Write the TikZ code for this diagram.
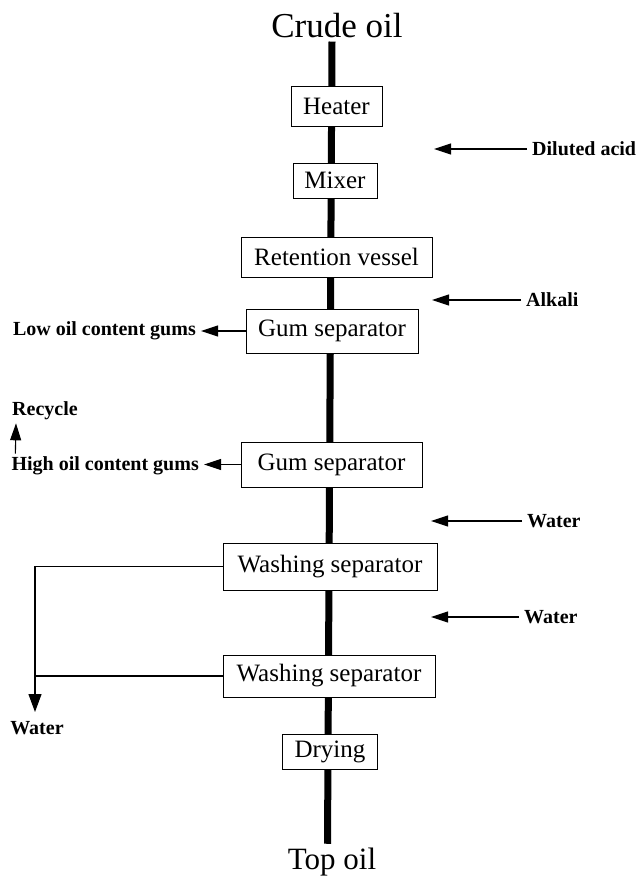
\documentclass[tikz,border=0pt]{standalone}
\usepackage{fontspec}
\setmainfont{Liberation Serif}
\usetikzlibrary{arrows.meta,backgrounds}

\begin{document}
\begin{tikzpicture}[x=1pt,y=-1pt,
        unit/.style={draw,fill=white,line width=1pt,inner sep=0pt,font=\fontsize{25}{30}\selectfont},
        stream/.style={inner xsep=5pt,inner ysep=3pt,font=\bfseries\fontsize{20}{24}\selectfont},
        pipe/.style={line width=7pt},
        flow/.style={line width=1.1pt,-{Triangle[length=17pt,width=11pt]}}]
    \useasboundingbox (0,0) rectangle (643,878);
    % main line
    \node[inner sep=3pt] (crude) at (337,26) {\fontsize{35}{40}\selectfont Crude oil};
    \node[unit,minimum width=91pt,minimum height=40pt] (heater) at (336.5,106) {Heater};
    \node[unit,minimum width=84pt,minimum height=35pt] (mixer) at (335,180.5) {Mixer};
    \node[unit,minimum width=191pt,minimum height=40pt] (retention) at (336.5,257) {Retention vessel};
    \node[unit,minimum width=172pt,minimum height=44pt] (gumA) at (332,331) {Gum separator};
    \node[unit,minimum width=181pt,minimum height=45pt] (gumB) at (331.5,464.5) {Gum separator};
    \node[unit,minimum width=214pt,minimum height=47pt] (washA) at (330,566.5) {Washing separator};
    \node[unit,minimum width=212pt,minimum height=42pt] (washB) at (329,676) {Washing separator};
    \node[unit,minimum width=95pt,minimum height=35pt] (drying) at (330,752) {Drying};
    \node[inner sep=4pt] (top) at (332,862) {\fontsize{31}{36}\selectfont Top oil};
    \begin{scope}[on background layer]
        \draw[pipe] ([xshift=-5pt]crude.south) -- ([xshift=-4.5pt]top.north);
    \end{scope}
    % feeds from the right
    \node[stream,anchor=west] (acid) at (527,149) {Diluted acid};
    \node[stream,anchor=west] (alkali) at (521,300) {Alkali};
    \node[stream,anchor=west] (waterA) at (522,521) {Water};
    \node[stream,anchor=west] (waterB) at (519,617) {Water};
    \coordinate (acidin) at (434,149);
    \coordinate (alkaliin) at (432,300);
    \coordinate (waterAin) at (431,521);
    \coordinate (waterBin) at (431,617);
    \draw[flow] (acid) -- (acidin);
    \draw[flow] (alkali) -- (alkaliin);
    \draw[flow] (waterA) -- (waterAin);
    \draw[flow] (waterB) -- (waterBin);
    % outlets to the left
    \node[stream,anchor=east] (lowgum) at (201,331) {Low oil content gums};
    \node[stream,anchor=east] (highgum) at (204,466) {High oil content gums};
    \node[stream,anchor=west] (recycle) at (7,411) {Recycle};
    \node[stream] (waterout) at (37,728) {Water};
    \coordinate (drain) at (35,712);
    \draw[flow] (gumA.west) -- (gumA.west -| lowgum.east);
    \draw[flow] (gumB.west) -- (gumB.west -| highgum.east);
    \draw[flow] ([xshift=9pt]highgum.north west) -- ([xshift=9pt]recycle.south west);
    \draw[line width=1.1pt,-{Triangle[length=18pt,width=13pt]}] (washA.west) -| (drain);
    \draw[line width=1.1pt] (washB.west) -- (washB.west -| drain);
\end{tikzpicture}
\end{document}
